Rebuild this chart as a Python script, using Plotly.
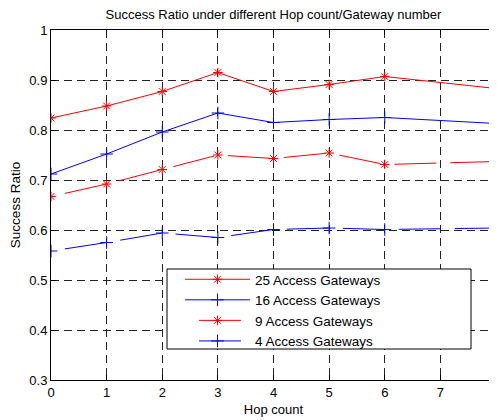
import plotly.graph_objects as go

hops = [0, 1, 2, 3, 4, 5, 6, 8]
gw25 = [0.824, 0.848, 0.877, 0.915, 0.877, 0.891, 0.907, 0.883]
gw16 = [0.712, 0.752, 0.796, 0.834, 0.815, 0.821, 0.825, 0.813]
gw9 = [0.667, 0.692, 0.721, 0.750, 0.743, 0.754, 0.731, 0.737]
gw4 = [0.558, 0.575, 0.594, 0.585, 0.601, 0.604, 0.601, 0.604]

names = ["25 Access Gateways", "16 Access Gateways", "9 Access Gateways", "4 Access Gateways"]
y_tickvals = [0.3, 0.4, 0.5, 0.6, 0.7, 0.8, 0.9, 1.0]
y_ticktext = ["0.3", "0.4", "0.5", "0.6", "0.7", "0.8", "0.9", "1"]
x_tickvals = [0, 1, 2, 3, 4, 5, 6, 7, 8]

FONT = "Liberation Sans, Arial, Helvetica, sans-serif"
RED = "#ff0000"
BLUE = "#0000ff"
DASH = "0px,14px,42px,0px"

# page body has an 8px margin; figure sized to fill the rest of the window
W, H = 489, 412

fig = go.Figure()
series = [
    (gw25, names[0], RED, "solid", "asterisk-open", 8),
    (gw16, names[1], BLUE, "solid", "cross-thin-open", 9),
    (gw9, names[2], RED, DASH, "asterisk-open", 8),
    (gw4, names[3], BLUE, DASH, "cross-thin-open", 9),
]
for ys, nm, col, dash, sym, sz in series:
    fig.add_trace(go.Scatter(
        x=hops, y=ys, name=nm, mode="lines+markers",
        line=dict(color=col, width=1, dash=dash),
        marker=dict(symbol=sym, size=sz, color=col, line=dict(color=col, width=1)),
    ))

axis_common = dict(
    showline=True, linecolor="black", linewidth=1, mirror="ticks",
    ticks="inside", ticklen=5, tickcolor="black", tickwidth=1,
    showgrid=True, gridcolor="#222222", gridwidth=1, griddash="8px,5px",
    zeroline=False, automargin=False, ticklabeloverflow="allow",
    tickfont=dict(family=FONT, size=13, color="black"),
)

fig.update_layout(
    width=W, height=H,
    margin=dict(l=43, r=1, t=22, b=40, autoexpand=False),
    paper_bgcolor="white", plot_bgcolor="white",
    font=dict(family=FONT, size=13, color="black"),
    title=dict(text="Success Ratio under different Hop count/Gateway number",
               x=0.5, xref="paper", xanchor="center",
               y=1 - 6.5 / H, yref="container", yanchor="middle",
               font=dict(family=FONT, size=13, color="black")),
    xaxis=dict(range=[0, 8], tickvals=x_tickvals,
               title=dict(text="Hop count", standoff=6, font=dict(family=FONT, size=13)),
               **axis_common),
    yaxis=dict(range=[0.3, 1.0], tickvals=y_tickvals, ticktext=y_ticktext,
               title=dict(text="Success Ratio", standoff=7, font=dict(family=FONT, size=13.5)),
               **axis_common),
    legend=dict(x=(180 - 51) / 445, xanchor="left", y=(380 - 264) / 350, yanchor="top",
                bgcolor="rgba(0,0,0,0)", borderwidth=0, itemwidth=65,
                font=dict(family=FONT, size=13.5, color="black")),
    shapes=[dict(type="rect", xref="paper", yref="paper",
                 x0=(167 - 51) / 445, x1=(471 - 51) / 445,
                 y0=(380 - 349) / 350, y1=(380 - 269) / 350,
                 fillcolor="white", line=dict(color="black", width=1), layer="above")],
)

fig.write_html("out.html")
